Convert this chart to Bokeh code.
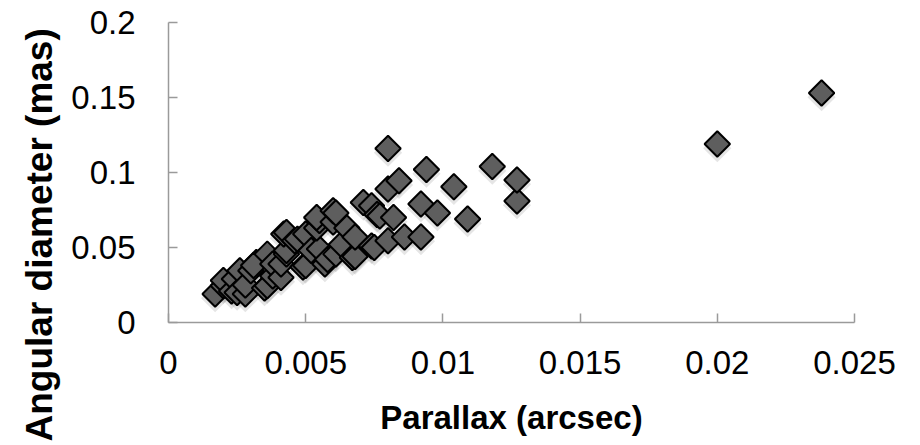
import math
from bokeh.plotting import figure
from bokeh.models import FixedTicker, CustomJSTickFormatter, Title, ColumnDataSource
from bokeh.embed import file_html
from bokeh.resources import INLINE

# Data
parallax = [0.0017, 0.0020, 0.0020, 0.0023, 0.0024, 0.0025, 0.0026, 0.0028, 0.0028, 0.0030,
            0.0032, 0.0031, 0.0035, 0.0036, 0.0036, 0.0038, 0.0038, 0.0041, 0.0041, 0.0043,
            0.0043, 0.0042, 0.0043, 0.0046, 0.0047, 0.0049, 0.0050, 0.0050, 0.0052, 0.0055,
            0.0054, 0.0055, 0.0054, 0.0057, 0.0058, 0.0060, 0.0060, 0.0061, 0.0061, 0.0063,
            0.0065, 0.0067, 0.0068, 0.0068, 0.0071, 0.0074, 0.0074, 0.0075, 0.0076, 0.0077,
            0.0080, 0.0080, 0.0080, 0.0082, 0.0084, 0.0086, 0.0092, 0.0092, 0.0094, 0.0098,
            0.0104, 0.0109, 0.0118, 0.0127, 0.0127, 0.0200, 0.0238]
diameter = [0.019, 0.0245, 0.028, 0.021, 0.029, 0.020, 0.0345, 0.019, 0.025, 0.0345,
            0.040, 0.038, 0.023, 0.0245, 0.0456, 0.031, 0.039, 0.030, 0.039, 0.0456,
            0.048, 0.059, 0.060, 0.0545, 0.0556, 0.037, 0.038, 0.059, 0.048, 0.049,
            0.063, 0.068, 0.070, 0.039, 0.042, 0.067, 0.0745, 0.073, 0.0456, 0.052,
            0.063, 0.0433, 0.044, 0.057, 0.080, 0.0778, 0.051, 0.050, 0.072, 0.071,
            0.0545, 0.089, 0.116, 0.070, 0.0945, 0.057, 0.057, 0.079, 0.102, 0.073,
            0.0905, 0.069, 0.104, 0.081, 0.095, 0.119, 0.153]

x_ticks = [0, 0.005, 0.01, 0.015, 0.02, 0.025]
y_ticks = [0, 0.05, 0.1, 0.15, 0.2]
x_title = "Parallax (arcsec)"
y_title = "Angular diameter (mas)"

FONT = "Liberation Sans"

p = figure(width=920, height=445, frame_width=686, frame_height=300,
           min_border_left=168, min_border_right=66, min_border_top=22, min_border_bottom=123,
           x_range=(x_ticks[0], x_ticks[-1]), y_range=(y_ticks[0], y_ticks[-1]),
           output_backend="svg", toolbar_location=None, tools="")
p.outline_line_color = None
p.xgrid.visible = False
p.ygrid.visible = False
p.background_fill_color = "white"
p.border_fill_color = "white"

fmt = CustomJSTickFormatter(code="return String(parseFloat(tick.toFixed(6)));")
for ax, ticks in ((p.xaxis[0], x_ticks), (p.yaxis[0], y_ticks)):
    ax.ticker = FixedTicker(ticks=ticks)
    ax.formatter = fmt
    ax.axis_line_color = "#9a9a9a"
    ax.axis_line_width = 1.5
    ax.major_tick_line_color = "#9a9a9a"
    ax.major_tick_line_width = 1.5
    ax.major_tick_in = 9
    ax.major_tick_out = 0
    ax.minor_tick_line_color = None
    ax.major_label_text_font = FONT
    ax.major_label_text_font_size = "33px"
    ax.major_label_text_color = "black"

p.xaxis.major_label_standoff = 28
p.yaxis.major_label_standoff = 33
p.xaxis.axis_label = x_title
p.xaxis.axis_label_text_font = FONT
p.xaxis.axis_label_text_font_style = "bold"
p.xaxis.axis_label_text_font_size = "33px"
p.xaxis.axis_label_text_color = "black"
p.xaxis.axis_label_standoff = 22

src = ColumnDataSource(dict(x=parallax, y=diameter,
                            ys=[d - 0.0028 for d in diameter]))
# soft shadow
p.scatter("x", "ys", source=src, marker="square", angle=math.pi / 4, size=20,
          fill_color="black", fill_alpha=0.10, line_color=None)
p.scatter("x", "y", source=src, marker="square", angle=math.pi / 4, size=18,
          fill_color="#5e5e5e", line_color="black", line_width=2)

ytitle = Title(text=y_title, align="left", offset=-119, standoff=18,
               text_font=FONT, text_font_style="bold", text_font_size="37px",
               text_color="black")
p.add_layout(ytitle, "left")

open("out.html", "w").write(file_html(p, INLINE))
